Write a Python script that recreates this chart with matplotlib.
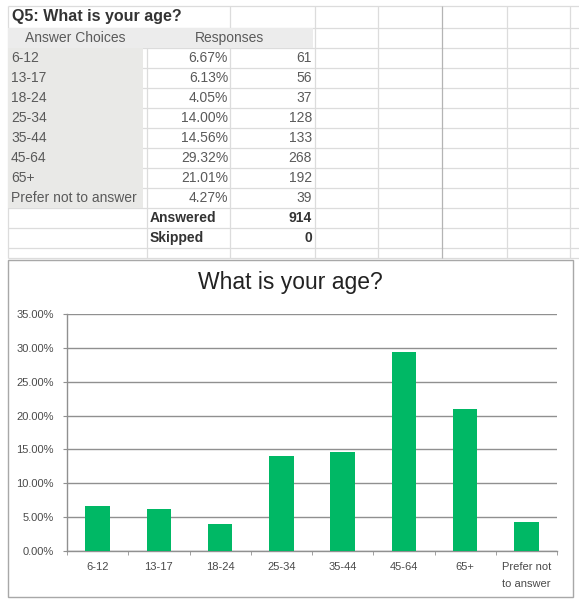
import matplotlib
matplotlib.use("Agg")
import matplotlib.pyplot as plt
from matplotlib.patches import Rectangle

plt.rcParams['font.family'] = ['Liberation Sans', 'DejaVu Sans']

# ---- data ----
categories = ["6-12", "13-17", "18-24", "25-34", "35-44", "45-64", "65+", "Prefer not to answer"]
chart_labels = ["6-12", "13-17", "18-24", "25-34", "35-44", "45-64", "65+", "Prefer not\nto answer"]
percents = [6.67, 6.13, 4.05, 14.00, 14.56, 29.32, 21.01, 4.27]
counts = [61, 56, 37, 128, 133, 268, 192, 39]
answered = 914
skipped = 0
question = "Q5: What is your age?"
chart_title = "What is your age?"
yticks = [0, 5, 10, 15, 20, 25, 30, 35]

W, H = 579, 603
fig = plt.figure(figsize=(W / 100, H / 100), dpi=100)
fig.patch.set_facecolor('white')

bg = fig.add_axes([0, 0, 1, 1])
bg.set_xlim(0, W)
bg.set_ylim(H, 0)
bg.axis('off')

grid_c = '#dcdcdc'
# spreadsheet grid
col_x = [8, 147, 230, 315, 378, 442, 507, 570]
row_y = [6, 28] + [48 + 20 * i for i in range(11)] + [258]
for y in row_y:
    bg.hlines(y, 8, W, color=grid_c, lw=0.9, zorder=1)
for x in col_x:
    c = '#b4b4b4' if x == 442 else grid_c
    if x == 147:
        bg.vlines(x, 28, 258, color=c, lw=0.9, zorder=1)
    else:
        bg.vlines(x, 6, 258, color=c, lw=0.9, zorder=1)

# fills
bg.add_patch(Rectangle((8, 28), 305, 20, facecolor='#ececec', edgecolor='none', zorder=2))
bg.add_patch(Rectangle((8, 48), 135, 20 * len(categories), facecolor='#e9e9e7', edgecolor='none', zorder=2))

txt_c = '#5a5a5a'
bg.text(12, 17, question, fontsize=11.5, fontweight='bold', color='#333333', ha='left', va='center', zorder=3)
bg.text(75, 38, "Answer Choices", fontsize=10, color=txt_c, ha='center', va='center', zorder=3)
bg.text(230, 38, "Responses", fontsize=10, color=txt_c, ha='center', va='center', zorder=3)
for i, (cat, p, n) in enumerate(zip(categories, percents, counts)):
    yc = 58 + 20 * i
    bg.text(11, yc, cat, fontsize=10, color=txt_c, ha='left', va='center', zorder=3)
    bg.text(228, yc, f"{p:.2f}%", fontsize=10, color=txt_c, ha='right', va='center', zorder=3)
    bg.text(312, yc, f"{n}", fontsize=10, color=txt_c, ha='right', va='center', zorder=3)
ya = 58 + 20 * len(categories)
bg.text(150, ya, "Answered", fontsize=10, fontweight='bold', color='#333333', ha='left', va='center', zorder=3)
bg.text(312, ya, f"{answered}", fontsize=10, fontweight='bold', color='#333333', ha='right', va='center', zorder=3)
bg.text(150, ya + 20, "Skipped", fontsize=10, fontweight='bold', color='#333333', ha='left', va='center', zorder=3)
bg.text(312, ya + 20, f"{skipped}", fontsize=10, fontweight='bold', color='#333333', ha='right', va='center', zorder=3)

# chart frame
bg.add_patch(Rectangle((8, 260), 565, 337, facecolor='white', edgecolor='#a8a8a8', lw=1.0, zorder=4))
bg.text(290, 282, chart_title, fontsize=16.5, color='#222222', ha='center', va='center', zorder=5)

# chart axes
left, right, top, bottom = 67, 557, 314, 551
ax = fig.add_axes([left / W, 1 - bottom / H, (right - left) / W, (bottom - top) / H])
ax.set_facecolor('none')
x = list(range(len(categories)))
ax.bar(x, percents, width=0.4, color='#00B865', zorder=3)
ax.set_xlim(-0.5, len(categories) - 0.5)
ax.set_ylim(0, 35)
ax.set_yticks(yticks)
ax.set_yticklabels([f"{v:.2f}%" for v in yticks])
ax.yaxis.grid(True, color='#909090', lw=1.0)
ax.set_axisbelow(True)
for s in ['top', 'right']:
    ax.spines[s].set_visible(False)
for s in ['left', 'bottom']:
    ax.spines[s].set_color('#909090')
    ax.spines[s].set_linewidth(1.0)
ax.tick_params(axis='y', length=3, color='#909090', labelcolor='#4a4a4a', labelsize=8, pad=6.5)
ax.set_xticks(x)
ax.set_xticklabels(chart_labels)
ax.set_xticks([i - 0.5 for i in range(len(categories) + 1)], minor=True)
ax.tick_params(axis='x', which='major', length=0, labelcolor='#4a4a4a', labelsize=8, pad=8)
ax.tick_params(axis='x', which='minor', length=3, color='#909090')
for lbl in ax.get_xticklabels():
    lbl.set_linespacing(1.9)

fig.savefig("out.png", dpi=100, facecolor='white')
